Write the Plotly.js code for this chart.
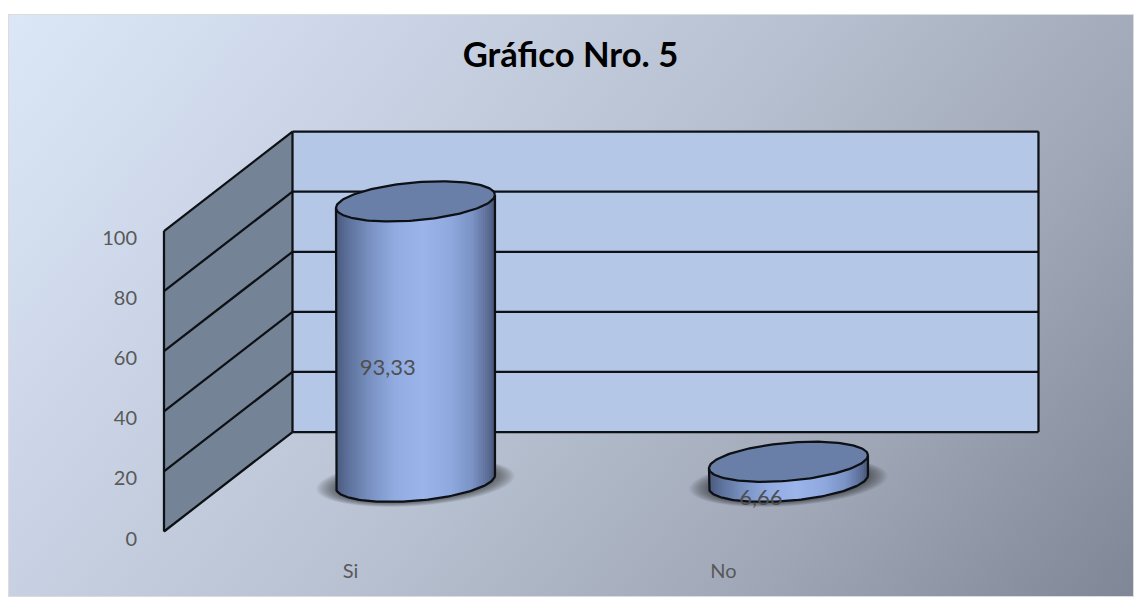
<!DOCTYPE html>
<html><head><meta charset="utf-8">
<script src="https://cdn.plot.ly/plotly-3.0.1.min.js"></script>
<style>
html,body{margin:0;padding:0;background:#fff;width:1134px;height:597px;overflow:hidden}
#bg{position:absolute;left:8px;top:14px;width:1126px;height:583px;box-sizing:border-box;border:1px solid #dcdcdc;
background:linear-gradient(128deg,#dbe7f7 0%,#ccd6e8 22%,#b8c1d1 50%,#a0a8b7 75%,#7f8797 100%)}
#chart{position:absolute;left:0;top:0;width:1134px;height:597px}
#chart .barlayer path{shape-rendering:crispEdges}
</style></head><body>
<div id="bg"></div><div id="chart"></div>
<script>
// ---- chart content
const chartTitle = "Gráfico Nro. 5";
const categories = ["Si", "No"];
const values = [93.33, 6.66];
const valueLabels = ["93,33", "6,66"];
const yTicks = [0, 20, 40, 60, 80, 100];

// ---- projection of the 3D box, in axis units
const depthX = 0.3445, depthY = 33.1;     // shift of back wall from front edge
const radX = 0.2131, radY = 6.32, shear = 2.16;  // cylinder cap ellipse
const yMax = 100, nCat = categories.length;
const INK = "#0d1014";

// cylinder centre on the floor
const cx = i => i + 0.5 + depthX / 2 + 0.002;
const cy0 = depthY / 2;
const capLow = (c, u) => c + shear * u - radY * Math.sqrt(Math.max(0, 1 - u * u));

// horizontal shading of the cylinder wall
const shadeStops = [[-1,[74,90,126]],[-0.85,[92,112,154]],[-0.6,[118,142,190]],[-0.25,[146,172,226]],[0.1,[155,180,234]],[0.45,[143,168,222]],[0.72,[122,146,196]],[0.92,[90,108,148]],[1,[70,84,116]]];
function shade(u){
  for(let k=1;k<shadeStops.length;k++){
    const [a,ca]=shadeStops[k-1],[b,cb]=shadeStops[k];
    if(u<=b){const f=(u-a)/(b-a);return "rgb("+ca.map((v,j)=>Math.round(v+(cb[j]-v)*f)).join(",")+")";}
  }
  return "rgb(70,84,116)";
}

const traces = [];
const STRIPS = 80;
categories.forEach((cat, i) => {
  const xs=[], base=[], ys=[], cols=[];
  for (let k=0;k<STRIPS;k++){
    const u = -1 + (k+0.5)*2/STRIPS;
    xs.push(cx(i)+u*radX); base.push(capLow(cy0,u)); ys.push(values[i]); cols.push(shade(u));
  }
  traces.push({type:"bar",name:cat,x:xs,y:ys,base:base,width:radX*2/STRIPS*1.3,
    marker:{color:cols,line:{width:0}},showlegend:false,hoverinfo:"skip"});
});
categories.forEach((cat, i) => {
  const ox=[],oy=[], tx=[],ty=[];
  ox.push(cx(i)-radX); oy.push(capLow(cy0,-1)+values[i]);
  const N=80;
  for(let k=0;k<=N;k++){const t=Math.PI-k*Math.PI/N;const u=Math.cos(t);ox.push(cx(i)+u*radX);oy.push(cy0+shear*u-radY*Math.sin(t));}
  ox.push(cx(i)+radX); oy.push(capLow(cy0,1)+values[i]);
  traces.push({type:"scatter",mode:"lines",x:ox,y:oy,line:{color:INK,width:2.25},showlegend:false,hoverinfo:"skip"});
  for(let k=0;k<=2*N;k++){const t=k*Math.PI/N;const u=Math.cos(t);tx.push(cx(i)+u*radX);ty.push(cy0+values[i]+shear*u+radY*Math.sin(t));}
  traces.push({type:"scatter",mode:"lines",x:tx,y:ty,fill:"toself",fillcolor:"#6a7fa8",line:{color:INK,width:2.25},showlegend:false,hoverinfo:"skip"});
});
traces.push({type:"scatter",mode:"text",
  x:categories.map((c,i)=>i+0.5+0.1),
  y:values.map(v=>v/2+7.3),
  text:valueLabels,textposition:"middle center",
  textfont:{family:"Lato",size:22,color:"#4f4f4f"},cliponaxis:false,showlegend:false,hoverinfo:"skip"});

// box walls and grid
const shapes = [];
function ell(c0x,c0y,Rx,Ry,s){
  let p="";
  for(let k=0;k<=60;k++){const t=k*Math.PI/30;const u=Math.cos(t);
    p+=(k?"L":"M")+(c0x+Rx*u).toFixed(4)+","+(c0y+s*u+Ry*Math.sin(t)).toFixed(3);}
  return p+"Z";
}
shapes.push({type:"path",layer:"below",xref:"x",yref:"y",path:`M0,0L${depthX},${depthY}L${depthX},${depthY+yMax}L0,${yMax}Z`,fillcolor:"#758396",line:{width:0}});
shapes.push({type:"rect",layer:"below",xref:"x",yref:"y",x0:depthX,x1:depthX+nCat,y0:depthY,y1:depthY+yMax,fillcolor:"#b4c7e7",line:{width:0}});
yTicks.forEach(t=>{
  shapes.push({type:"line",layer:"below",xref:"x",yref:"y",x0:0,y0:t,x1:depthX,y1:t+depthY,line:{color:INK,width:2.25}});
  shapes.push({type:"line",layer:"below",xref:"x",yref:"y",x0:depthX,y0:t+depthY,x1:depthX+nCat,y1:t+depthY,line:{color:INK,width:2.25}});
});
[[0,0,0,yMax],[depthX,depthY,depthX,depthY+yMax],[depthX+nCat,depthY,depthX+nCat,depthY+yMax]].forEach(a=>
  shapes.push({type:"line",layer:"below",xref:"x",yref:"y",x0:a[0],y0:a[1],x1:a[2],y1:a[3],line:{color:INK,width:2.25}}));
// soft floor shadows
categories.forEach((c,i)=>{
  const L=30;
  for(let k=0;k<L;k++){
    const f=1.25-k*0.012;
    shapes.push({type:"path",layer:"below",xref:"x",yref:"y",path:ell(cx(i),cy0-0.2,radX*f,radY*f,shear),
      fillcolor:"#14161c",opacity:0.032,line:{width:0}});
  }
});

const layout = {
  width:1134,height:597,
  margin:{l:160,r:89,t:125,b:62},
  paper_bgcolor:"rgba(0,0,0,0)",plot_bgcolor:"rgba(0,0,0,0)",
  barmode:"overlay",showlegend:false,
  title:{text:chartTitle,font:{family:"Lato",size:34.6,color:"#000",weight:700},x:570.5/1134,xref:"container",xanchor:"center",y:1-55/597,yref:"container",yanchor:"middle"},
  xaxis:{range:[-0.0107,2.362],tickvals:categories.map((c,i)=>i+0.5),ticktext:categories,showgrid:false,zeroline:false,showline:false,ticks:"",
    ticklabelstandoff:22,tickfont:{family:"Lato",size:20,color:"#595959"}},
  yaxis:{range:[-1.165,135.3],tickvals:yTicks,showgrid:false,zeroline:false,showline:false,ticks:"",
    ticklabelstandoff:22,ticklabelshift:7,tickfont:{family:"Lato",size:20,color:"#595959"}},
  shapes:shapes
};
Plotly.newPlot("chart",traces,layout,{staticPlot:true,displayModeBar:false});
</script></body></html>
